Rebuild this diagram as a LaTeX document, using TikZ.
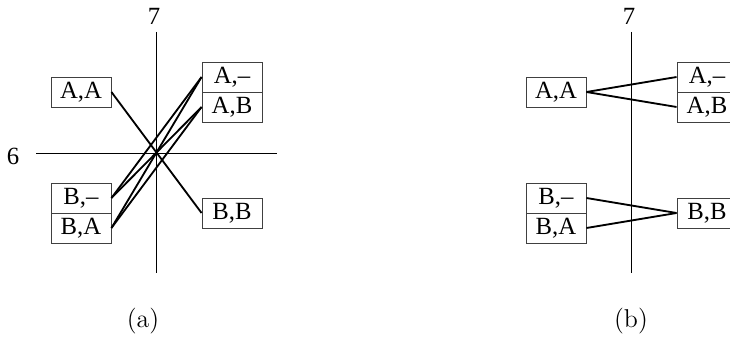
\documentclass[tikz,border=0pt]{standalone}
\usepackage{fontspec}
\newfontfamily\capfont{Latin Modern Roman}
\setmainfont{Liberation Serif}
\begin{document}
\begin{tikzpicture}[x=0.465pt,y=-0.465pt,
  font=\fontsize{11.5}{13}\selectfont,
  cell/.style={draw=black!75,line width=0.4pt,minimum width=27.9pt,minimum height=13.95pt,inner sep=0pt},
  axis/.style={line width=0.45pt},
  conn/.style={line width=0.85pt},
  captext/.style={font=\capfont\fontsize{12}{14}\selectfont}]
\useasboundingbox (0,0) rectangle (730,341);
% panel (a)
\coordinate (vt) at (156,32); \coordinate (vb) at (156,273);
\coordinate (hl) at (36,153); \coordinate (hr) at (277,153);
\draw[axis] (vt) -- (vb);
\draw[axis] (hl) -- (hr);
\node (l7a) at (154,16) {7};
\node (l6a) at (13,156) {6};
\node[cell] (aAA) at (81,92) {A,A};
\node[cell] (aAm) at (232,77) {A,--};
\node[cell] (aAB) at (232,107) {A,B};
\node[cell] (aBm) at (81,198) {B,--};
\node[cell] (aBA) at (81,228) {B,A};
\node[cell] (aBB) at (232,213) {B,B};
\draw[conn] (aAA.east) -- (aBB.west);
\draw[conn] (aBm.east) -- (aAm.west);
\draw[conn] (aBm.east) -- (aAB.west);
\draw[conn] (aBA.east) -- (aAm.west);
\draw[conn] (aBA.east) -- (aAB.west);
\node[captext] (capa) at (143,321) {(a)};
% panel (b)
\coordinate (vtb) at (631,32); \coordinate (vbb) at (631,273);
\draw[axis] (vtb) -- (vbb);
\node (l7b) at (629,16) {7};
\node[cell] (bAA) at (556,92) {A,A};
\node[cell] (bAm) at (707,77) {A,--};
\node[cell] (bAB) at (707,107) {A,B};
\node[cell] (bBm) at (556,198) {B,--};
\node[cell] (bBA) at (556,228) {B,A};
\node[cell] (bBB) at (707,213) {B,B};
\draw[conn] (bAA.east) -- (bAm.west);
\draw[conn] (bAA.east) -- (bAB.west);
\draw[conn] (bBm.east) -- (bBB.west);
\draw[conn] (bBA.east) -- (bBB.west);
\node[captext] (capb) at (631,321) {(b)};
\end{tikzpicture}
\end{document}
